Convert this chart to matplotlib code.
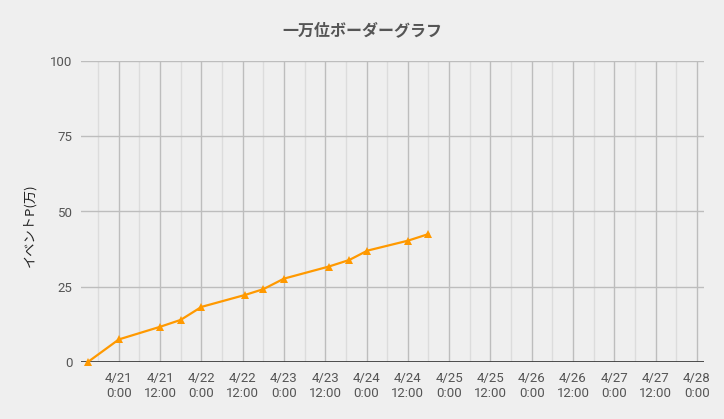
import matplotlib
matplotlib.use("Agg")
import matplotlib.pyplot as plt
import matplotlib.dates as mdates
import pandas as pd

times = ["2019-04-20 15:00", "2019-04-21 00:00", "2019-04-21 12:00", "2019-04-21 18:00",
         "2019-04-22 00:00", "2019-04-22 12:45", "2019-04-22 18:00", "2019-04-23 00:00",
         "2019-04-23 13:00", "2019-04-23 19:00", "2019-04-24 00:15", "2019-04-24 12:00",
         "2019-04-24 18:00"]
values = [0, 7.5, 11.7, 14.0, 18.3, 22.3, 24.2, 27.7, 31.7, 33.9, 37.0, 40.3, 42.5]
y_ticks = [0, 25, 50, 75, 100]
title = "一万位ボーダーグラフ"
ylabel = "イベントP(万)"

t = pd.to_datetime(times)
bg = "#efefef"

fig = plt.figure(figsize=(7.24, 4.19), dpi=100, facecolor=bg)
ax = fig.add_axes([81/724, (419-362)/419, (703.7-81)/724, (362-61)/419])
ax.set_facecolor(bg)

xmin = pd.Timestamp("2019-04-20 13:00")
xmax = pd.Timestamp("2019-04-28 02:00")
ax.set_xlim(xmin, xmax)
ax.set_ylim(0, 100)

major = pd.date_range("2019-04-21 00:00", "2019-04-28 00:00", freq="12h")
minor = pd.date_range("2019-04-20 18:00", "2019-04-27 18:00", freq="12h")
ax.set_xticks(major)
ax.set_xticks(minor, minor=True)
ax.set_xticklabels([f"{d.month}/{d.day}\n{d.hour}:{d.minute:02d}" for d in major])
ax.set_yticks(y_ticks)
ax.set_yticklabels([str(v) for v in y_ticks])

ax.grid(True, which="major", axis="both", color="#bdbdbd", linewidth=1.0, zorder=0)
ax.grid(True, which="minor", axis="x", color="#dcdcdc", linewidth=1.0, zorder=0)
ax.axhline(0, color="#333333", linewidth=1.2, zorder=2)
ax.set_axisbelow(True)
for s in ax.spines.values():
    s.set_visible(False)
ax.tick_params(which="both", length=0)
ax.tick_params(axis="x", pad=7, labelsize=9.5, labelcolor="#555555")
ax.tick_params(axis="y", pad=6, labelsize=9.5, labelcolor="#555555")
for lab in ax.get_xticklabels() + ax.get_yticklabels():
    lab.set_fontfamily(["Roboto", "DejaVu Sans"])
for lab in ax.get_xticklabels():
    lab.set_linespacing(1.25)

ax.plot(t, values, color="#ff9900", linewidth=1.6, marker="^", markersize=6,
        markeredgewidth=0, zorder=3, clip_on=False)

fig.text(362/724, 1 - 30/419, title, ha="center", va="center", fontsize=11.5,
         fontweight="bold", color="#555555", family=["Noto Sans CJK JP", "DejaVu Sans"])
fig.text(30/724, 1 - 225/419, ylabel, ha="center", va="center", rotation=90,
         fontsize=9.5, color="#222222", family=["Noto Sans CJK JP", "DejaVu Sans"])

fig.savefig("out.png", dpi=100, facecolor=bg)
